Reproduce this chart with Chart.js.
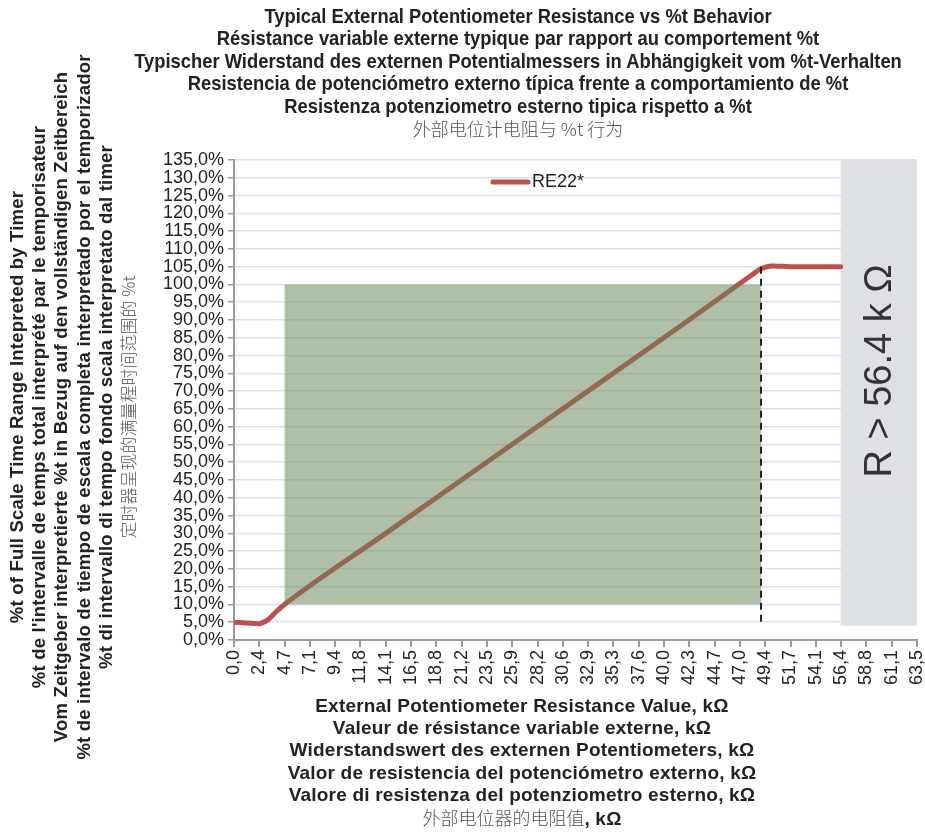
<!DOCTYPE html>
<html>
<head>
<meta charset="utf-8">
<script src="https://cdn.jsdelivr.net/npm/chart.js@4.4.0/dist/chart.umd.min.js"></script>
<style>
  body { margin: 0; background: #fff; }
  #wrap { position: relative; width: 925px; height: 832px; overflow: hidden; }
  #myChart { position: absolute; left: 0; top: 0; }
  .title { position: absolute; left: -82px; width: 1200px; top: 5px; text-align: center;
           white-space: nowrap;
           font-family: 'Liberation Sans', Arial, sans-serif;
           font-weight: bold; font-size: 21px; line-height: 22.4px; color: #222;
           transform: scaleX(0.875); transform-origin: 600px 0; }
  .ctitle { position: absolute; left: 118px; width: 800px; top: 116px; text-align: center;
            line-height: 24px; }
  .xtitle { position: absolute; left: 122px; width: 800px; top: 695px; text-align: center;
            font-family: 'Liberation Sans', Arial, sans-serif; font-weight: bold;
            font-size: 19px; letter-spacing: 0.2px; line-height: 22.2px; color: #222; }
  .ytitle { position: absolute; width: 800px; height: 134px; left: -327px; top: 340px;
            transform: rotate(-90deg); text-align: center; white-space: nowrap;
            font-family: 'Liberation Sans', Arial, sans-serif; font-weight: bold;
            font-size: 18.5px; letter-spacing: 0.2px; line-height: 22.2px; color: #222; }
  .cjk { font-family: 'Noto Sans CJK SC', sans-serif; font-weight: 300; color: #555;
         font-size: 18px; letter-spacing: 0; }
  .ytitle .cjk { font-size: 17px; }
</style>
</head>
<body>
<div id="wrap">
  <canvas id="myChart" width="925" height="832"></canvas>
  <div class="title">
    Typical External Potentiometer Resistance vs %t Behavior<br>
    Résistance variable externe typique par rapport au comportement %t<br>
    Typischer Widerstand des externen Potentialmessers in Abhängigkeit vom %t-Verhalten<br>
    Resistencia de potenciómetro externo típica frente a comportamiento de %t<br>
    Resistenza potenziometro esterno tipica rispetto a %t
  </div>
  <div class="ctitle"><span class="cjk">外部电位计电阻与 %t 行为</span></div>
  <div class="ytitle">
    %t of Full Scale Time Range Intepreted by Timer<br>
    %t de l'intervalle de temps total interprété par le temporisateur<br>
    Vom Zeitgeber interpretierte %t in Bezug auf den vollständigen Zeitbereich<br>
    %t de intervalo de tiempo de escala completa interpretado por el temporizador<br>
    %t di intervallo di tempo fondo scala interpretato dal timer<br>
    <span class="cjk">定时器呈现的满量程时间范围的 %t</span>
  </div>
  <div class="xtitle">
    External Potentiometer Resistance Value, kΩ<br>
    Valeur de résistance variable externe, kΩ<br>
    Widerstandswert des externen Potentiometers, kΩ<br>
    Valor de resistencia del potenciómetro externo, kΩ<br>
    Valore di resistenza del potenziometro esterno, kΩ<br>
    <span class="cjk">外部电位器的电阻值</span>, kΩ
  </div>
</div>
<script>
// tick labels along the resistance axis (kΩ)
var xTickLabels = ['0,0', '2,4', '4,7', '7,1', '9,4', '11,8', '14,1', '16,5', '18,8', '21,2',
    '23,5', '25,9', '28,2', '30,6', '32,9', '35,3', '37,6', '40,0', '42,3', '44,7',
    '47,0', '49,4', '51,7', '54,1', '56,4', '58,8', '61,1', '63,5'];
var xMax = 63.5;

// RE22* curve
var resistance = [0, 1.2, 2.3, 3.2, 4.0, 4.7, 14.1, 23.5, 32.9, 42.3, 47.0, 48.2, 49.0, 50.0, 51.0, 52.0, 56.4];
var percentT   = [5.0, 4.8, 4.6, 5.8, 8.2, 10.0, 30.0, 50.0, 70.0, 90.0, 100.2, 102.8, 104.4, 105.2, 105.1, 105.0, 105.0];

// shaded zones
var usableRange = [4.7, 49.0];   // kΩ
var usableLevels = [10, 100];    // %
var overRange = [56.4, 63.5];    // kΩ
var overLevels = [4, 135];       // %

var points = resistance.map(function (r, i) { return { x: r, y: percentT[i] }; });

var zones = {
    id: 'zones',
    beforeDraw: function (chart) {
        var c = chart.ctx, x = chart.scales.x, y = chart.scales.y;
        c.save();
        c.fillStyle = '#dfe0e4';
        var x0 = x.getPixelForValue(overRange[0]), x1 = x.getPixelForValue(overRange[1]);
        var y0 = y.getPixelForValue(overLevels[1]), y1 = y.getPixelForValue(overLevels[0]);
        c.fillRect(x0, y0, x1 - x0, y1 - y0);
        c.restore();
    },
    afterDatasetsDraw: function (chart) {
        var c = chart.ctx, x = chart.scales.x, y = chart.scales.y;
        c.save();
        c.fillStyle = 'rgba(97, 129, 81, 0.5)';
        var x0 = x.getPixelForValue(usableRange[0]), x1 = x.getPixelForValue(usableRange[1]);
        var y0 = y.getPixelForValue(usableLevels[1]), y1 = y.getPixelForValue(usableLevels[0]);
        c.fillRect(x0, y0, x1 - x0, y1 - y0);

        // dashed marker
        c.strokeStyle = '#222';
        c.lineWidth = 2;
        c.setLineDash([7, 5]);
        c.beginPath();
        c.moveTo(x1, y.getPixelForValue(105));
        c.lineTo(x1, y.getPixelForValue(5));
        c.stroke();
        c.setLineDash([]);

        // rotated label in grey zone
        var gx = (x.getPixelForValue(overRange[0]) + x.getPixelForValue(overRange[1])) / 2;
        c.translate(gx + 2, 371);
        c.rotate(-Math.PI / 2);
        c.fillStyle = '#333';
        c.font = '38px "Liberation Sans", Arial, sans-serif';
        c.textAlign = 'center';
        c.textBaseline = 'middle';
        c.fillText('R > 56.4 k Ω', 0, 0);
        c.restore();

        // legend
        var a = chart.chartArea;
        c.save();
        c.strokeStyle = '#c0504d';
        c.lineWidth = 5;
        c.lineCap = 'round';
        c.beginPath();
        c.moveTo(a.left + 259, a.top + 22);
        c.lineTo(a.left + 294, a.top + 22);
        c.stroke();
        c.fillStyle = '#222';
        c.font = '18px "Liberation Sans", Arial, sans-serif';
        c.textBaseline = 'middle';
        c.fillText('RE22*', a.left + 298, a.top + 22);
        c.restore();
    }
};

var ctx = document.getElementById('myChart').getContext('2d');
var myChart = new Chart(ctx, {
    type: 'line',
    data: {
        datasets: [{
            label: 'RE22*',
            data: points,
            borderColor: '#c0504d',
            borderWidth: 5,
            borderCapStyle: 'round',
            pointRadius: 0,
            cubicInterpolationMode: 'monotone',
            fill: false
        }]
    },
    options: {
        responsive: false,
        animation: false,
        layout: { padding: { left: 160, right: 8, top: 160, bottom: 132 } },
        plugins: {
            legend: { display: false },
            tooltip: { enabled: false }
        },
        scales: {
            x: {
                type: 'linear',
                min: 0,
                max: xMax,
                afterFit: function (s) { s.height = 60; s.paddingLeft = 0; s.paddingRight = 0; },
                afterBuildTicks: function (s) {
                    s.ticks = xTickLabels.map(function (l, i) { return { value: i * xMax / (xTickLabels.length - 1) }; });
                },
                border: { color: '#9a9a9a', width: 2 },
                grid: { drawOnChartArea: false, drawTicks: true, tickLength: 7, tickColor: '#9a9a9a', lineWidth: 2 },
                ticks: {
                    autoSkip: false,
                    minRotation: 90,
                    maxRotation: 90,
                    padding: 3,
                    color: '#222',
                    font: { family: 'Liberation Sans', size: 18 },
                    callback: function (v, i) { return xTickLabels[i]; }
                }
            },
            y: {
                min: 0,
                max: 135,
                afterFit: function (s) { s.width = 74; },
                border: { color: '#9a9a9a', width: 2 },
                grid: { color: '#dde0ef', lineWidth: 1.5, tickLength: 6, tickColor: '#9a9a9a' },
                ticks: {
                    stepSize: 5,
                    autoSkip: false,
                    padding: 4,
                    color: '#222',
                    font: { family: 'Liberation Sans', size: 18 },
                    callback: function (v) { return v.toFixed(1).replace('.', ',') + '%'; }
                }
            }
        }
    },
    plugins: [zones]
});
</script>
</body>
</html>
